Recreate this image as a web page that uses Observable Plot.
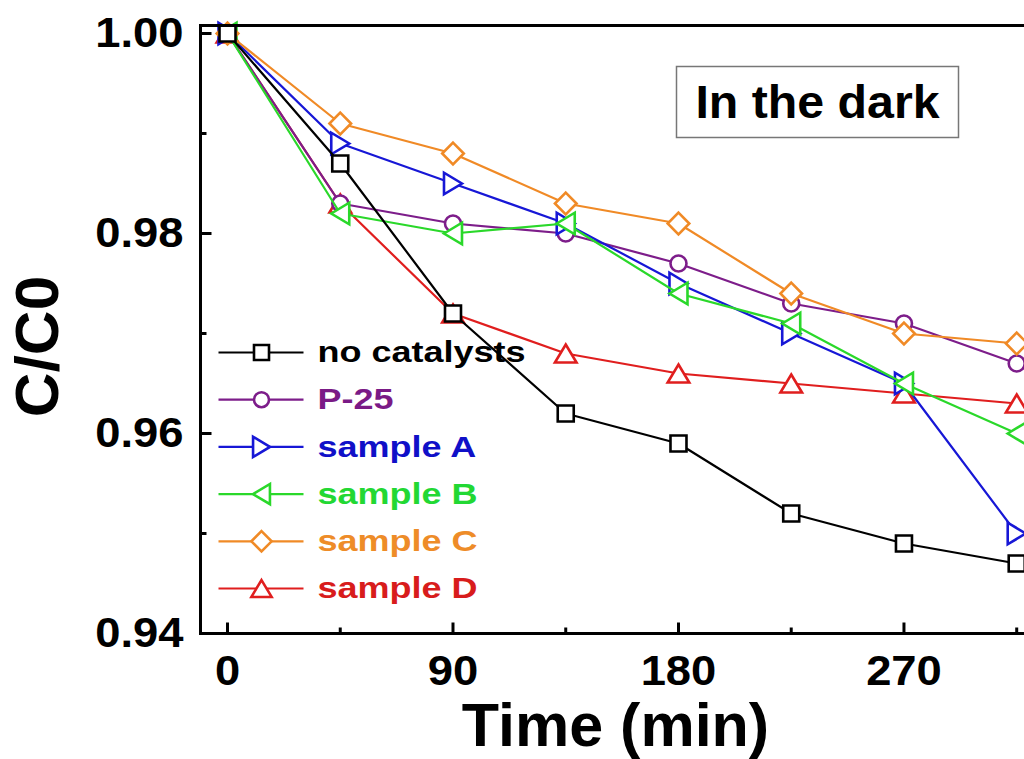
<!DOCTYPE html>
<html>
<head>
<meta charset="utf-8">
<script src="https://cdn.jsdelivr.net/npm/d3@7"></script>
<script src="https://cdn.jsdelivr.net/npm/@observablehq/plot@0.6"></script>
<style>
html, body { margin: 0; padding: 0; background: #fff; overflow: hidden; }
#wrap { width: 1024px; height: 759px; overflow: hidden; }
#wrap svg { max-width: none !important; }
</style>
</head>
<body>
<div id="wrap"></div>
<script>
// ---- data ----
const times = [0, 45, 90, 135, 180, 225, 270, 315];
const seriesNames = ["no catalysts", "P-25", "sample A", "sample B", "sample C", "sample D"];
const noCatalysts = [1.000, 0.987, 0.972, 0.962, 0.959, 0.952, 0.949, 0.947];
const p25        = [1.000, 0.983, 0.981, 0.980, 0.977, 0.973, 0.971, 0.967];
const sampleA    = [1.000, 0.989, 0.985, 0.981, 0.975, 0.970, 0.965, 0.950];
const sampleB    = [1.000, 0.982, 0.980, 0.981, 0.974, 0.971, 0.965, 0.960];
const sampleC    = [1.000, 0.991, 0.988, 0.983, 0.981, 0.974, 0.970, 0.969];
const sampleD    = [1.000, 0.983, 0.972, 0.968, 0.966, 0.965, 0.964, 0.963];
const xMajorTicks = [0, 90, 180, 270];
const xMinorTicks = [45, 135, 225, 315];
const yMajorTicks = [0.94, 0.96, 0.98, 1.00];
const yMinorTicks = [0.95, 0.97, 0.99];
const xLabel = "Time (min)";
const yLabel = "C/C0";
const annotation = "In the dark";

// ---- styles ----
const colors = ["#000000", "#7d1d8a", "#1717d6", "#2ad82a", "#f08a26", "#e01e1e"];
const textColors = ["#000000", "#7a1a86", "#1010c8", "#22d833", "#ee8c28", "#d81c1c"];

function sym(fn) { return { draw(ctx, size) { fn(ctx, Math.sqrt(size / Math.PI)); } }; }
const squareSym = sym((c, r) => { c.moveTo(-r, -r); c.lineTo(r, -r); c.lineTo(r, r); c.lineTo(-r, r); c.closePath(); });
const circleSym = sym((c, r) => { c.moveTo(r, 0); c.arc(0, 0, r, 0, 2 * Math.PI); c.closePath(); });
const diamondSym = sym((c, r) => { const d = 1.35 * r; c.moveTo(0, -d); c.lineTo(d, 0); c.lineTo(0, d); c.lineTo(-d, 0); c.closePath(); });
const triUp = sym((c, r) => { const s = 2.7 * r, h = 2.25 * r; c.moveTo(0, -h / 2); c.lineTo(s / 2, h / 2); c.lineTo(-s / 2, h / 2); c.closePath(); });
const triRight = sym((c, r) => { const s = 2.7 * r, h = 2.25 * r; c.moveTo(h / 2, 0); c.lineTo(-h / 2, -s / 2); c.lineTo(-h / 2, s / 2); c.closePath(); });
const triLeft = sym((c, r) => { const s = 2.7 * r, h = 2.25 * r; c.moveTo(-h / 2, 0); c.lineTo(h / 2, -s / 2); c.lineTo(h / 2, s / 2); c.closePath(); });
const legendLine = { draw(c) { c.moveTo(-43, 0); c.lineTo(42, 0); } };
const tickUp = (L) => ({ draw(c) { c.moveTo(0, 0); c.lineTo(0, -L); } });
const tickRight = (L) => ({ draw(c) { c.moveTo(0, 0); c.lineTo(L, 0); } });
const symbols = [squareSym, circleSym, triRight, triLeft, diamondSym, triUp];

const values = [noCatalysts, p25, sampleA, sampleB, sampleC, sampleD];
const tables = values.map((vals, i) => times.map((t, j) => ({ t, v: vals[j], s: seriesNames[i] })));

// draw order (last on top)
const drawOrder = [5, 1, 2, 3, 4, 0];

const marks = [];
for (const i of drawOrder) {
  marks.push(Plot.line(tables[i], { x: "t", y: "v", stroke: colors[i], strokeWidth: 2.2 }));
  marks.push(Plot.dot(tables[i], { x: "t", y: "v", symbol: symbols[i], r: 8, stroke: colors[i], strokeWidth: 2.6, fill: "white" }));
}

// legend
seriesNames.forEach((name, i) => {
  const dy = 327 + 47.2 * i;
  marks.push(Plot.dot([name], { x: null, y: null, frameAnchor: "top-left", dx: 61, dy, symbol: legendLine, r: 5, stroke: colors[i], strokeWidth: 2.2, fill: "none" }));
  marks.push(Plot.dot([name], { x: null, y: null, frameAnchor: "top-left", dx: 61, dy, symbol: symbols[i], r: 7.5, stroke: colors[i], strokeWidth: 2.6, fill: "white" }));
  marks.push(Plot.text([name], { text: d => d, frameAnchor: "top-left", dx: 117, dy, textAnchor: "start", lineAnchor: "middle", fontSize: 30, fontWeight: "bold", fill: textColors[i], ariaLabel: () => "legend-text" }));
});

const chart = Plot.plot({
  width: 1034,
  height: 759,
  marginLeft: 200,
  marginRight: 0,
  marginTop: 25,
  marginBottom: 126,
  style: { fontFamily: "'Liberation Sans', Arial, Helvetica, sans-serif", background: "white", color: "black", overflow: "visible", maxWidth: "none" },
  x: { domain: [-10.78, 322.1] },
  y: { domain: [0.94, 1.0008] },
  marks: [
    // annotation box
    Plot.frame({ stroke: "#777", strokeWidth: 1.5, insetLeft: 476, insetRight: 76, insetTop: 41, insetBottom: 496 }),
    Plot.text([annotation], { text: d => d, frameAnchor: "top-left", dx: 617, dy: 60, textAnchor: "middle", lineAnchor: "top", fontSize: 46, fontWeight: "bold", fill: "black", ariaLabel: () => "annotation" }),
    ...marks,
    // frame
    Plot.frame({ stroke: "black", strokeWidth: 3 }),
    // inward ticks
    Plot.dot(xMajorTicks, { x: d => d, y: null, frameAnchor: "bottom", symbol: tickUp(11), stroke: "black", strokeWidth: 3, fill: "none" }),
    Plot.dot(xMinorTicks, { x: d => d, y: null, frameAnchor: "bottom", symbol: tickUp(6), stroke: "black", strokeWidth: 3, fill: "none" }),
    Plot.dot(yMajorTicks, { y: d => d, x: null, frameAnchor: "left", symbol: tickRight(11), stroke: "black", strokeWidth: 3, fill: "none" }),
    Plot.dot(yMinorTicks, { y: d => d, x: null, frameAnchor: "left", symbol: tickRight(6), stroke: "black", strokeWidth: 3, fill: "none" }),
    // tick labels
    Plot.axisX({ ticks: xMajorTicks, tickSize: 0, tickPadding: 22, fontSize: 42, fontWeight: "bold", label: null, fill: "black" }),
    Plot.axisY({ ticks: yMajorTicks, tickSize: 0, tickPadding: 17, tickFormat: d3.format(".2f"), fontSize: 42, fontWeight: "bold", label: null, fill: "black" }),
    // axis titles
    Plot.text([xLabel], { text: d => d, frameAnchor: "bottom", dx: -2, dy: 69, textAnchor: "middle", lineAnchor: "top", fontSize: 61, fontWeight: "bold", fill: "black" }),
    Plot.text([yLabel], { text: d => d, frameAnchor: "left", dx: -162, dy: 17, rotate: -90, textAnchor: "middle", lineAnchor: "middle", fontSize: 62, fontWeight: "bold", fill: "black" })
  ]
});

document.getElementById("wrap").append(chart);

// widen legend and tick label glyphs to match the reference's wide lettering
function stretch(selector, k) {
  chart.querySelectorAll(selector).forEach(t => {
    const len = t.getComputedTextLength();
    t.setAttribute("textLength", (len * k).toFixed(1));
    t.setAttribute("lengthAdjust", "spacingAndGlyphs");
  });
}
stretch('text[aria-label="legend-text"]', 1.2);
stretch('text[aria-label="annotation"]', 1.05);
stretch('g[aria-label="x-axis tick label"] text', 1.08);
stretch('g[aria-label="y-axis tick label"] text', 1.08);
</script>
</body>
</html>
